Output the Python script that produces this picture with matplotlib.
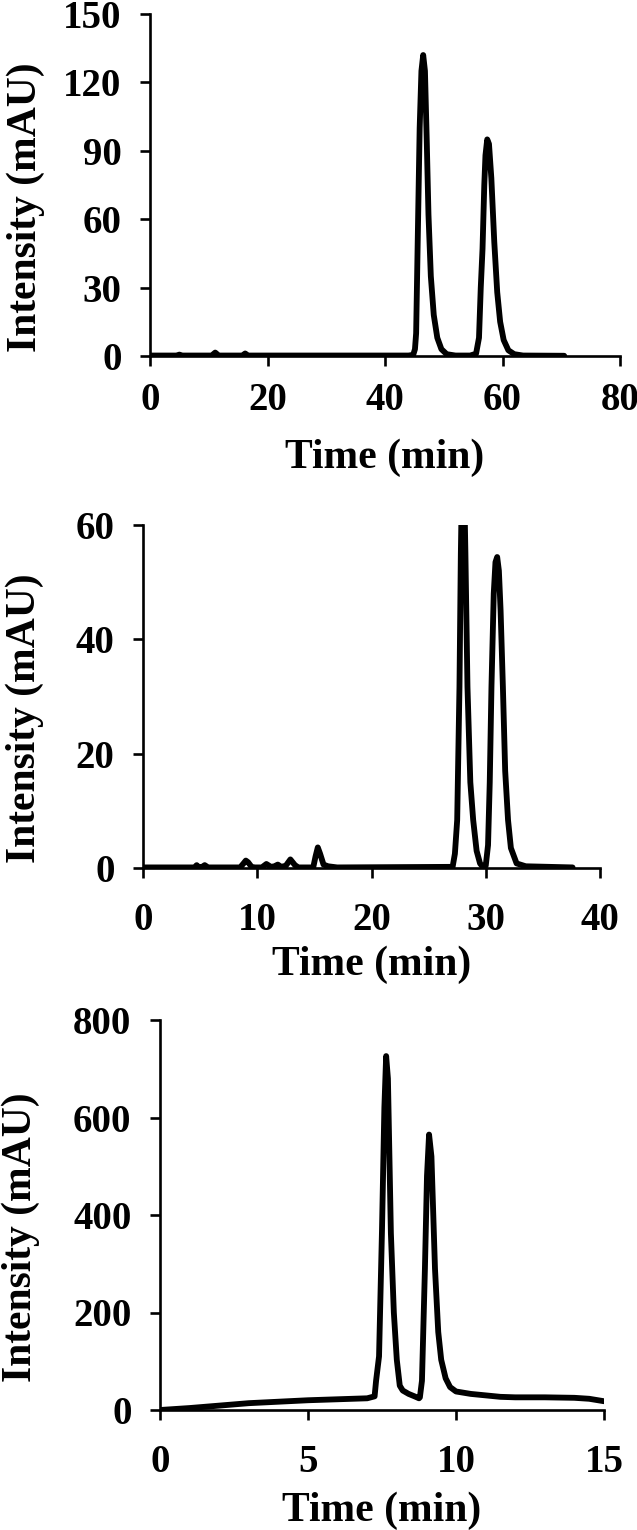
import matplotlib
matplotlib.use('Agg')
import matplotlib.pyplot as plt

plt.rcParams['font.family'] = ['Liberation Serif', 'DejaVu Serif']
plt.rcParams['font.weight'] = 'bold'

# panel 1 chromatogram (0-80 min)
t1 = [0, 4.5, 5.0, 5.5, 10.5, 11.1, 11.7, 15.7, 16.2, 16.7, 44.0, 44.8, 45.1, 45.3,
      45.6, 45.9, 46.2, 46.5, 46.8, 47.1, 47.4, 47.8, 48.3, 48.9, 49.6, 50.5, 52.0,
      54.5, 55.5, 56.0, 56.3, 56.6, 56.9, 57.1, 57.4, 57.7, 58.1, 58.6, 59.1, 59.6,
      60.2, 61.0, 62.0, 63.5, 70.5]
i1 = [0.2, 0.2, 0.6, 0.2, 0.2, 1.5, 0.2, 0.2, 1.1, 0.2, 0.2, 0.5, 3, 10,
      55, 100, 125, 132, 125, 95, 62, 35, 18, 8, 3, 0.8, 0.2,
      0.2, 1, 8, 30, 47, 75, 88, 95, 93, 78, 50, 28, 15,
      7, 2.5, 0.8, 0.2, 0.1]

# panel 2 chromatogram (0-40 min)
t2 = [0, 4.5, 4.7, 4.9, 5.1, 5.4, 5.7, 8.5, 8.8, 9.0, 9.2, 9.5, 9.8, 10.4, 10.8, 11.2,
      11.5, 11.8, 12.1, 12.5, 12.9, 13.3, 13.6, 14.9, 15.1, 15.3, 15.5, 15.8, 16.2, 17.0,
      27.1, 27.3, 27.5, 27.7, 27.82, 27.9, 28.0, 28.1, 28.22, 28.4, 28.65, 28.9, 29.2,
      29.5, 29.7, 30.0, 30.2, 30.35, 30.5, 30.7, 30.85, 31.0, 31.15, 31.3, 31.5, 31.7,
      31.95, 32.2, 32.7, 33.5, 37.6]
i2 = [0.1, 0.1, 0.5, 0.1, 0.1, 0.5, 0.1, 0.1, 0.8, 1.3, 1.0, 0.2, 0.1, 0.1, 0.7, 0.2,
      0.3, 0.6, 0.2, 0.4, 1.5, 0.5, 0.1, 0.1, 2.0, 3.6, 2.5, 0.6, 0.3, 0.1,
      0.2, 2.5, 8.4, 31.7, 55, 65, 72, 68, 55, 31.7, 15, 8.4, 3,
      0.8, 0.3, 0.4, 4, 15, 31.7, 48, 53.5, 54.4, 52, 45, 31.7, 17,
      8.4, 3.5, 0.8, 0.3, 0.1]

# panel 3 chromatogram (0-15 min)
t3 = [0, 1, 2, 3, 4, 5, 6, 7, 7.25, 7.3, 7.4, 7.5, 7.58, 7.64, 7.7, 7.8, 7.9, 8.0, 8.1,
      8.2, 8.4, 8.6, 8.75, 8.78, 8.85, 8.95, 9.02, 9.09, 9.17, 9.29, 9.4, 9.5, 9.65,
      9.8, 10.0, 10.5, 11.0, 11.5, 12.0, 13.0, 14.0, 14.5, 15.0]
i3 = [0, 4, 9, 14, 17, 20, 22, 24, 28, 60, 110, 370, 620, 726, 680, 363, 200, 103, 50,
      40, 33, 28, 24, 26, 60, 290, 480, 565, 520, 290, 160, 103, 65,
      47, 38, 33, 30, 27, 26, 26, 25, 23, 18]

W, H = 637, 1530
fig = plt.figure(figsize=(W / 100, H / 100), dpi=100)

panels = [
    # data, (left px, right px, top px, bottom px), xlim, xticks, ylim, yticks, xpad, label y, label x
    (t1, i1, (150, 620, 14, 356), 80, [0, 20, 40, 60, 80], 150, [0, 30, 60, 90, 120, 150], 11, 458, 26),
    (t2, i2, (143, 600, 525, 868), 40, [0, 10, 20, 30, 40], 60, [0, 20, 40, 60], 17, 965, 25),
    (t3, i3, (160, 604, 1020, 1410), 15, [0, 5, 10, 15], 800, [0, 200, 400, 600, 800], 17, 1511, 21),
]

for t, y, (l, r, tp, b), xmax, xt, ymax, yt, xpad, xly, ylx in panels:
    ax = fig.add_axes([l / W, 1 - b / H, (r - l) / W, (b - tp) / H])
    ax.plot(t, y, color='black', lw=4.2, solid_joinstyle='round', solid_capstyle='round')
    ax.set_xlim(0, xmax)
    ax.set_ylim(0, ymax)
    ax.set_xticks(xt)
    ax.set_yticks(yt)
    for s in ['top', 'right']:
        ax.spines[s].set_visible(False)
    for s in ['left', 'bottom']:
        ax.spines[s].set_linewidth(1.9)
    ax.tick_params(direction='out', length=7.5, width=1.9, labelsize=28)
    ax.tick_params(axis='y', pad=13)
    ax.tick_params(axis='x', pad=xpad)
    for lab in ax.get_xticklabels() + ax.get_yticklabels():
        lab.set_fontweight('bold')
    fig.text((l + r) / 2 / W, 1 - xly / H, 'Time (min)', ha='center', va='center',
             fontsize=30, fontweight='bold')
    ymid = (tp + b) / 2 + 22
    fig.text(ylx / W, 1 - ymid / H, 'Intensity (mAU)', ha='center', va='center',
             rotation=90, fontsize=30, fontweight='bold')

fig.savefig('out.png', dpi=100)
